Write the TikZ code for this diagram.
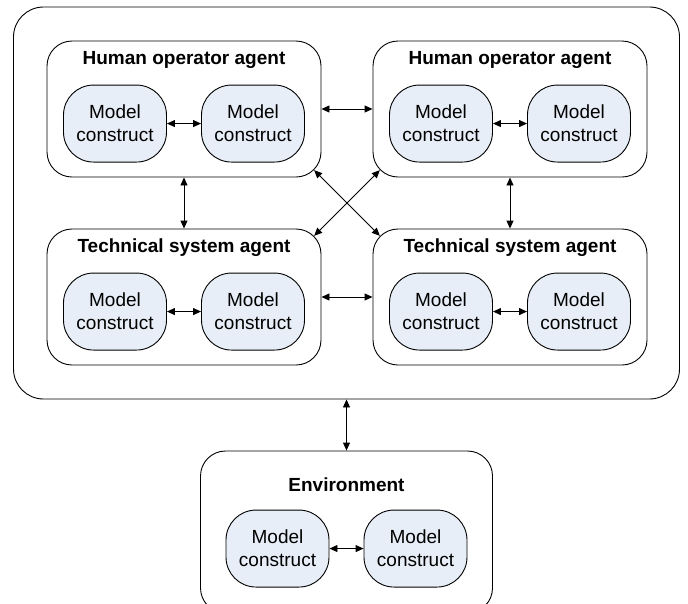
\documentclass[tikz,border=0pt]{standalone}
\usepackage{fontspec}
\setmainfont{Liberation Sans}
\usepackage{tikz}
\usetikzlibrary{arrows.meta, calc}
\definecolor{constructfill}{RGB}{232,238,247}

\begin{document}
\begin{tikzpicture}[x=1pt, y=-1pt, line width=0.9pt,
    agent/.style={draw, rounded corners=25pt, minimum width=274pt, minimum height=136pt, inner sep=0pt},
    construct/.style={draw, fill=constructfill, rounded corners=30pt, minimum width=103pt, minimum height=77pt, inner sep=0pt, align=center, font=\fontsize{19}{23}\selectfont},
    agenttitle/.style={inner sep=0pt, font=\fontsize{19}{23}\selectfont\bfseries},
    link/.style={{Triangle[length=8pt,width=7pt]}-{Triangle[length=8pt,width=7pt]}}]
    \useasboundingbox (0,0) rectangle (688,603);
    \clip (0,0) rectangle (688,603);

    % System boundary and environment
    \node[draw, rounded corners=30pt, minimum width=666pt, minimum height=392pt] (system) at (346.5,203) {};
    \node[agent, minimum width=292pt, minimum height=162pt] (env) at (346.5,532) {};

    % Agents
    \node[agent] (hoa1) at (184,109) {};
    \node[agent] (hoa2) at (510,109) {};
    \node[agent] (tsa1) at (184,297) {};
    \node[agent] (tsa2) at (510,297) {};

    % Titles and model constructs
    \foreach \a/\t/\d in {hoa1/Human operator agent/19, hoa2/Human operator agent/19,
                          tsa1/Technical system agent/19, tsa2/Technical system agent/19, env/Environment/34} {
        \node[agenttitle] (\a-t) at ($(\a.north)+(0,\d)$) {\t};
        \node[construct] (\a-l) at ($(\a-t)+(-69,64)$) {Model\\construct};
        \node[construct] (\a-r) at ($(\a-t)+(69,64)$) {Model\\construct};
        \draw[link] (\a-l) -- (\a-r);
    }

    % Corner points for the crossing links
    \coordinate (hoa1-se) at ($(hoa1.south east)+(-7.3,-7.3)$);
    \coordinate (hoa2-sw) at ($(hoa2.south west)+(7.3,-7.3)$);
    \coordinate (tsa1-ne) at ($(tsa1.north east)+(-7.3,7.3)$);
    \coordinate (tsa2-nw) at ($(tsa2.north west)+(7.3,7.3)$);

    % Links between agents
    \draw[link] (hoa1) -- (hoa2);
    \draw[link] (tsa1) -- (tsa2);
    \draw[link] (hoa1) -- (tsa1);
    \draw[link] (hoa2) -- (tsa2);
    \draw[link] (hoa1-se) -- (tsa2-nw);
    \draw[link] (hoa2-sw) -- (tsa1-ne);
    \draw[link] (system.south) -- (env.north);
\end{tikzpicture}
\end{document}
